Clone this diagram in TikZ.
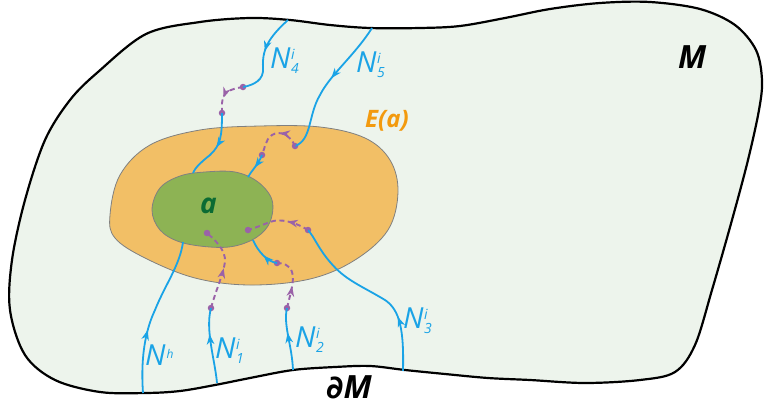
\documentclass[tikz,border=0pt]{standalone}
\usepackage{fontspec}
\setmainfont{Open Sans}
\newfontfamily\symfont{DejaVu Sans}
\usetikzlibrary{arrows.meta,decorations.markings}
\definecolor{mbg}{HTML}{EDF4EC}
\definecolor{eorange}{HTML}{F2BF66}
\definecolor{agreen}{HTML}{8DB354}
\definecolor{flowblue}{HTML}{1AA3E6}
\definecolor{flowpurple}{HTML}{9A62A8}
\definecolor{eatext}{HTML}{F39A0E}
\definecolor{atext}{HTML}{0B6B33}
\newcommand{\NN}[2]{N\kern0.5pt\rlap{\raisebox{9pt}{\fontsize{14}{14}\selectfont #2}}\raisebox{-5pt}{\fontsize{14}{14}\selectfont #1}}
\tikzset{
  bflow/.style={draw=flowblue, line width=1.8pt, postaction={decorate},
    decoration={markings, mark=at position #1 with {\arrow{Stealth[length=10pt,width=7.5pt,inset=3pt]}}}},
  bflow/.default=0.5,
  pflow/.style={draw=flowpurple, line width=1.9pt, dash pattern=on 5pt off 3.5pt, postaction={decorate},
    decoration={markings, mark=at position #1 with {\arrow[solid]{Stealth[length=10pt,width=7.5pt,inset=3pt]}}}},
  pflow/.default=0.5,
  dotp/.style={circle, fill=flowpurple, inner sep=0pt, minimum size=6.5pt},
  nlab/.style={anchor=base west, inner sep=0pt, text=flowblue, font=\itshape\fontsize{29}{29}\selectfont},
  blab/.style={anchor=base west, inner sep=0pt, font=\bfseries\itshape\fontsize{32}{32}\selectfont},
}
\begin{document}
\begin{tikzpicture}[x=1pt,y=-1pt]
\useasboundingbox (0,0) rectangle (764,405);
% manifold M
\draw[line width=2.2pt, fill=mbg] plot[smooth cycle, tension=0.55] coordinates {
 (98,72) (146,34) (200,22) (250,18) (290,20) (330,25) (370,28) (420,28) (460,26) (505,18) (550,9) (600,3) (650,2) (700,9) (735,25) (756,50) (762,80) (759,110) (748,160) (732,220) (712,290) (695,345) (675,372) (640,380) (585,383) (530,380) (488,378) (445,374) (405,370) (370,366) (335,367) (293,370) (250,378) (215,385) (180,391) (146,393) (100,392) (55,380) (25,355) (10,310) (12,260) (25,200) (45,140) (70,100)};
% E(a)
\draw[draw=gray, line width=0.8pt, fill=eorange] plot[smooth cycle, tension=0.6] coordinates {
 (110,215) (120,175) (150,145) (200,130) (260,126) (320,127) (365,138) (390,160) (398,192) (388,230) (355,260) (310,279) (250,285) (195,278) (145,258) (115,238)};
% a
\draw[draw=gray, line width=0.8pt, fill=agreen] plot[smooth cycle, tension=0.6] coordinates {
 (152,210) (160,188) (180,176) (205,172) (235,172) (258,182) (272,200) (270,222) (257,237) (235,246) (210,247) (180,242) (160,230)};
% coordinates
\coordinate (n4top) at (288,20);
\node[dotp] (n4d1) at (243,87) {};
\node[dotp] (n4d2) at (222,113) {};
\coordinate (n4end) at (193,173);
\coordinate (n5top) at (372,28);
\node[dotp] (n5d1) at (295,146) {};
\node[dotp] (n5d2) at (262,155) {};
\coordinate (n5end) at (248,177);
\coordinate (n3bot) at (403,371);
\node[dotp] (n3d1) at (308,230) {};
\node[dotp] (n3d2) at (248,230) {};
\coordinate (n2bot) at (293,370);
\node[dotp] (n2d1) at (287,308) {};
\node[dotp] (n2d2) at (277,263) {};
\coordinate (n2end) at (253,240);
\coordinate (n1bot) at (217,383);
\node[dotp] (n1d1) at (211,308) {};
\node[dotp] (n1d2) at (207,233) {};
\coordinate (nhbot) at (143,393);
\coordinate (nhend) at (183,242);
% N4
\draw[bflow=0.45] (n4top) .. controls (268,38) and (262,50) .. (263,68) .. controls (264,80) and (254,85) .. (n4d1.center);
\draw[pflow=0.6] (n4d1.center) .. controls (230,89) and (223,92) .. (222,103) -- (n4d2.center);
\draw[bflow=0.5] (n4d2.center) .. controls (222,135) and (221,145) .. (210,155) .. controls (200,163) and (195,168) .. (n4end);
% N5
\draw[bflow=0.45] (n5top) .. controls (355,55) and (330,75) .. (320,95) .. controls (308,115) and (312,140) .. (n5d1.center);
\draw[pflow=0.4] (n5d1.center) .. controls (290,135) and (280,130) .. (272,135) .. controls (265,140) and (265,148) .. (n5d2.center);
\draw[bflow=0.55] (n5d2.center) .. controls (258,165) and (252,170) .. (n5end);
% N3
\draw[bflow=0.3] (n3bot) .. controls (404,330) and (400,310) .. (385,300) .. controls (360,285) and (345,280) .. (330,262) .. controls (318,248) and (315,238) .. (n3d1.center);
\draw[pflow=0.35] (n3d1.center) .. controls (295,222) and (280,218) .. (270,222) .. controls (262,225) and (255,228) .. (n3d2.center);
% N2
\draw[bflow=0.6] (n2bot) .. controls (292,345) and (283,325) .. (n2d1.center);
\draw[pflow=0.4] (n2d1.center) .. controls (290,295) and (295,280) .. (292,272) .. controls (290,265) and (283,263) .. (n2d2.center);
\draw[bflow=0.45] (n2d2.center) .. controls (268,262) and (258,252) .. (n2end);
% N1
\draw[bflow=0.65] (n1bot) .. controls (215,360) and (205,330) .. (n1d1.center);
\draw[pflow=0.5] (n1d1.center) .. controls (216,290) and (223,275) .. (225,262) .. controls (226,250) and (215,240) .. (n1d2.center);
% Nh
\draw[bflow=0.4] (nhbot) .. controls (140,350) and (148,325) .. (155,310) .. controls (165,285) and (180,265) .. (nhend);
% labels
\node[nlab] (lh) at (145,365) {N\kern1pt\raisebox{7pt}{\fontsize{12}{12}\selectfont h}};
\node[nlab] (l1) at (215,358) {\NN{1}{i}};
\node[nlab] (l2) at (295,347) {\NN{2}{i}};
\node[nlab] (l3) at (403,328) {\NN{3}{i}};
\node[nlab] (l4) at (270,68) {\NN{4}{i}};
\node[nlab] (l5) at (356,72) {\NN{5}{i}};
\node[blab] (lM) at (678,68) {M};
\node[blab] (ldM) at (326,398) {{\symfont\bfseries\itshape ∂}M};
\node[blab, text=eatext, font=\bfseries\itshape\fontsize{24}{24}\selectfont] (lE) at (365,127) {E(a)};
\node[blab, text=atext, font=\bfseries\itshape\fontsize{28}{28}\selectfont] (la) at (200,213) {a};
\end{tikzpicture}
\end{document}
